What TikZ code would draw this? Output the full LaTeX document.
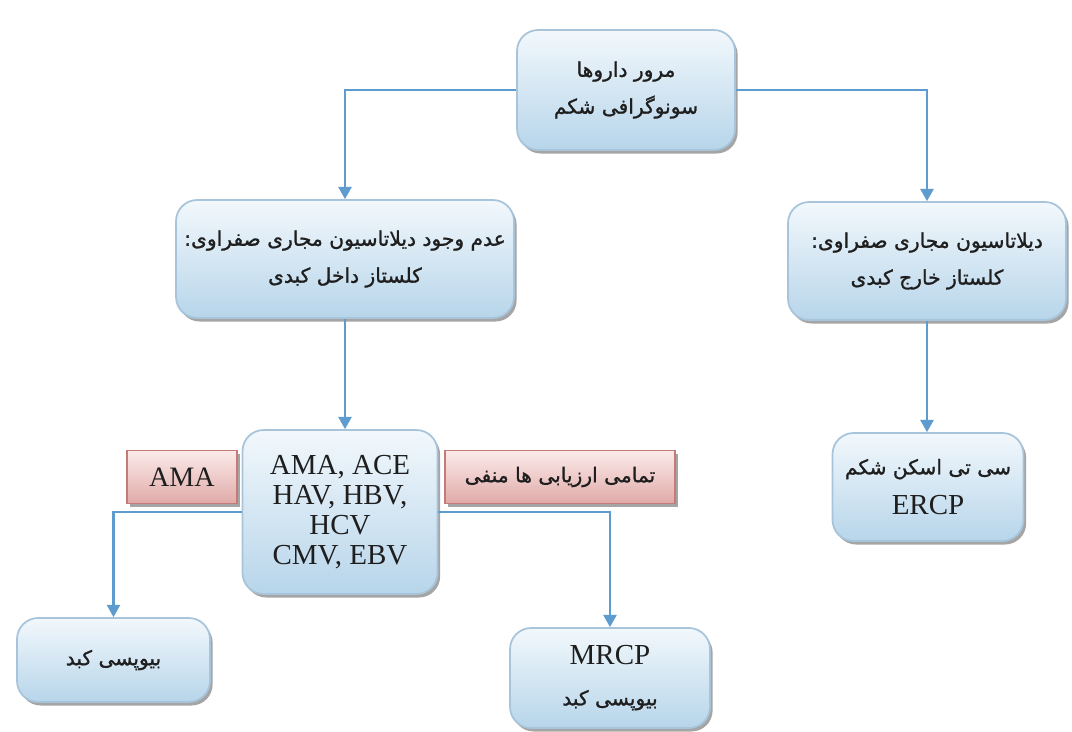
\documentclass[tikz,border=0pt]{standalone}
\usepackage{fontspec}
\setmainfont{Liberation Serif}
\newfontfamily\arabicfont[Script=Arabic,FakeBold=1.2]{DejaVu Sans}
\TeXXeTstate=1
\newcommand\fatxt[1]{{\arabicfont\fontsize{11.5}{18}\selectfont\beginR #1\endR}}
\usetikzlibrary{shadows,arrows.meta,shadings}
\definecolor{boxedge}{HTML}{A8C4DA}
\definecolor{boxtop}{HTML}{F2F8FC}
\definecolor{boxbot}{HTML}{B7D5EA}
\definecolor{rededge}{HTML}{C47A76}
\definecolor{redtop}{HTML}{FBEBEA}
\definecolor{redbot}{HTML}{E0AAA8}
\definecolor{arrowc}{HTML}{5E9BCF}
\definecolor{textc}{HTML}{1E1E1E}
\tikzset{
  bluebox/.style={rounded corners=12pt, draw=boxedge, line width=1pt,
    top color=boxtop, bottom color=boxbot,
    drop shadow={shadow xshift=1.5pt, shadow yshift=-2pt, opacity=0.5, fill=black!70},
    align=center, inner sep=0pt, text=textc, font=\fontsize{16.5}{17}\selectfont},
  redbox/.style={draw=rededge, line width=0.8pt,
    top color=redtop, bottom color=redbot,
    drop shadow={shadow xshift=1.5pt, shadow yshift=-2pt, opacity=0.5, fill=black!70},
    align=center, inner sep=0pt, text=textc, font=\fontsize{16}{17}\selectfont},
  arr/.style={draw=arrowc, line width=1.2pt, -{Triangle[width=7.5pt,length=7pt]}},
}
\begin{document}
\begin{tikzpicture}[x=0.02cm,y=-0.02cm]
\useasboundingbox[fill=white] (0,0) rectangle (1072,731);
\node[bluebox, minimum width=4.36cm, minimum height=2.4cm] (top) at (626,90)
  {\fatxt{مرور داروها}\\[4pt]\fatxt{سونوگرافی شکم}};
\node[bluebox, minimum width=6.76cm, minimum height=2.36cm] (lm) at (345,259)
  {\fatxt{عدم وجود دیلاتاسیون مجاری صفراوی:}\\[4pt]\fatxt{کلستاز داخل کبدی}};
\node[bluebox, minimum width=5.56cm, minimum height=2.36cm] (rm) at (927,261)
  {\fatxt{دیلاتاسیون مجاری صفراوی:}\\[4pt]\fatxt{کلستاز خارج کبدی}};
\node[bluebox, minimum width=3.9cm, minimum height=3.28cm] (cb) at (340,512)
  {AMA, ACE\\HAV, HBV,\\HCV\\CMV, EBV};
\node[bluebox, minimum width=3.82cm, minimum height=2.16cm] (br) at (928,487)
  {\fatxt{سی تی اسکن شکم}\\[6pt]ERCP};
\node[redbox, minimum width=2.2cm, minimum height=1.06cm] (ama) at (182,477) {AMA};
\node[redbox, minimum width=4.6cm, minimum height=1.06cm] (neg) at (560,477)
  {\fatxt{تمامی ارزیابی ها منفی}};
\node[bluebox, minimum width=3.86cm, minimum height=1.68cm] (bl) at (113.5,660)
  {\fatxt{بیوپسی کبد}};
\node[bluebox, minimum width=4.0cm, minimum height=2.0cm] (mr) at (610,678)
  {MRCP\\[6pt]\fatxt{بیوپسی کبد}};
\draw[arr] (top.west) -| (lm.north);
\draw[arr] (top.east) -| (rm.north);
\draw[arr] (lm.south) -- (lm.south |- cb.north);
\draw[arr] (rm.south) -- (rm.south |- br.north);
\draw[arr] (cb.west) -| (bl.north);
\draw[arr] (cb.east) -| (mr.north);
\end{tikzpicture}
\end{document}
